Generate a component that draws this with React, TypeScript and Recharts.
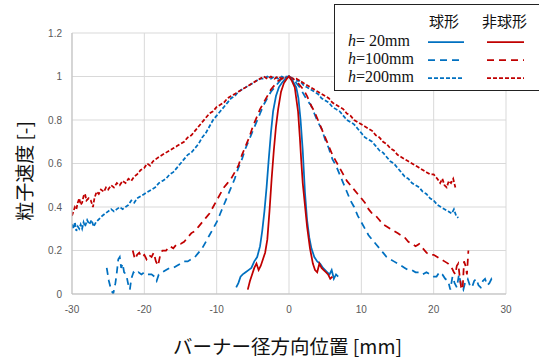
import { LineChart, Line, XAxis, YAxis, CartesianGrid } from 'recharts';

type Pt = [number, number];

const xTicks = [-30, -20, -10, 0, 10, 20, 30];
const yTicks = [0, 0.2, 0.4, 0.6, 0.8, 1, 1.2];

// h=20mm
const sph20: Pt[] = [
  [-7.3, 0.03], [-7.0, 0.05], [-6.7, 0.08], [-6.4, 0.09], [-6.0, 0.1], [-5.6, 0.11], [-5.2, 0.12],
  [-4.8, 0.15], [-4.4, 0.17], [-4.0, 0.22], [-3.7, 0.29], [-3.4, 0.38], [-3.1, 0.49], [-2.8, 0.62],
  [-2.5, 0.74], [-2.2, 0.84], [-1.8, 0.91], [-1.4, 0.95], [-1.0, 0.97], [-0.5, 0.99], [0, 1.0],
  [0.5, 0.98], [1.0, 0.95], [1.3, 0.9], [1.6, 0.8], [1.9, 0.66], [2.2, 0.47], [2.5, 0.34], [2.8, 0.26],
  [3.1, 0.21], [3.5, 0.17], [3.9, 0.15], [4.3, 0.14], [4.7, 0.12], [5.0, 0.11], [5.3, 0.1], [5.6, 0.09],
  [5.9, 0.11], [6.2, 0.07], [6.5, 0.09], [6.8, 0.08],
];
const nonSph20: Pt[] = [
  [-5.7, 0.02], [-5.4, 0.06], [-5.1, 0.09], [-4.8, 0.12], [-4.5, 0.14], [-4.2, 0.11], [-3.9, 0.13],
  [-3.6, 0.16], [-3.3, 0.19], [-3.0, 0.25], [-2.7, 0.38], [-2.4, 0.53], [-2.1, 0.66], [-1.8, 0.77],
  [-1.5, 0.85], [-1.1, 0.93], [-0.7, 0.97], [-0.3, 0.99], [0, 1.0],
  [0.4, 0.98], [0.8, 0.95], [1.0, 0.9], [1.25, 0.84], [1.5, 0.72], [1.7, 0.61], [1.9, 0.51], [2.2, 0.41],
  [2.5, 0.31], [2.9, 0.21], [3.3, 0.14], [3.6, 0.11], [3.9, 0.1], [4.2, 0.14], [4.5, 0.12], [4.8, 0.11],
  [5.1, 0.1], [5.4, 0.09], [5.7, 0.07], [6.0, 0.08],
];

// h=100mm
const sph100: Pt[] = [
  [-25.2, 0.12], [-24.9, 0.06], [-24.6, 0.02], [-24.3, 0.0], [-24.0, 0.05], [-23.8, 0.1], [-23.6, 0.16],
  [-23.4, 0.17], [-23.2, 0.12], [-23.0, 0.14], [-22.8, 0.1], [-22.5, 0.09], [-22.2, 0.04], [-22.0, 0.02],
  [-21.8, 0.07], [-21.5, 0.1], [-21.2, 0.09], [-20.8, 0.1], [-20.4, 0.09], [-20.0, 0.1], [-19.5, 0.09],
  [-19.0, 0.09], [-18.6, 0.08], [-18.3, 0.06], [-18.0, 0.09], [-17.5, 0.1], [-17.0, 0.11], [-16.5, 0.12],
  [-16.0, 0.12], [-15.5, 0.13], [-15.0, 0.14], [-14.5, 0.15], [-14.0, 0.15], [-13.5, 0.16], [-13.0, 0.17],
  [-12.5, 0.19], [-12.0, 0.21], [-11.5, 0.24], [-11.0, 0.27], [-10.5, 0.3], [-10.0, 0.33], [-9.5, 0.37],
  [-9.0, 0.41], [-8.5, 0.45], [-8.0, 0.49], [-7.5, 0.53], [-7.0, 0.58], [-6.5, 0.62], [-6.0, 0.67],
  [-5.5, 0.71], [-5.0, 0.75], [-4.5, 0.79], [-4.0, 0.83], [-3.5, 0.87], [-3.0, 0.9], [-2.5, 0.93],
  [-2.0, 0.95], [-1.5, 0.97], [-1.0, 0.99], [-0.5, 1.0], [0, 1.0],
  [0.5, 0.99], [1.0, 0.97], [1.5, 0.95], [2.0, 0.92], [2.5, 0.89], [3.0, 0.87], [3.5, 0.83], [4.0, 0.79],
  [4.5, 0.76], [5.0, 0.71], [5.5, 0.67], [6.0, 0.62], [6.5, 0.59], [7.0, 0.55], [7.5, 0.51], [8.0, 0.47],
  [8.5, 0.43], [9.0, 0.4], [9.5, 0.36], [10.0, 0.33], [10.5, 0.3], [11.0, 0.27], [11.5, 0.25], [12.0, 0.23],
  [12.5, 0.21], [13.0, 0.19], [13.5, 0.17], [14.0, 0.16], [14.5, 0.15], [15.0, 0.14], [15.5, 0.13],
  [16.0, 0.12], [16.5, 0.11], [17.0, 0.11], [17.5, 0.1], [18.0, 0.1], [18.5, 0.09], [19.0, 0.1],
  [19.5, 0.09], [20.0, 0.08], [20.4, 0.08], [20.8, 0.1], [21.2, 0.09], [21.6, 0.07], [22.0, 0.06],
  [22.3, 0.02], [22.6, 0.08], [22.9, 0.05], [23.2, 0.03], [23.5, 0.09], [23.8, 0.04], [24.1, 0.02],
  [24.4, 0.06], [24.7, 0.07], [25.0, 0.04], [25.3, 0.03], [25.6, 0.06], [25.9, 0.07], [26.2, 0.04],
  [26.5, 0.03], [26.8, 0.06], [27.1, 0.07], [27.4, 0.04], [27.7, 0.05], [28.0, 0.07], [28.3, 0.06],
];
const nonSph100: Pt[] = [
  [-21.6, 0.2], [-21.3, 0.16], [-21.0, 0.18], [-20.7, 0.19], [-20.4, 0.17], [-20.0, 0.18], [-19.7, 0.16],
  [-19.4, 0.18], [-19.0, 0.17], [-18.7, 0.19], [-18.4, 0.15], [-18.1, 0.13], [-17.8, 0.18], [-17.5, 0.2],
  [-17.0, 0.2], [-16.5, 0.22], [-16.0, 0.21], [-15.5, 0.23], [-15.0, 0.23], [-14.5, 0.24], [-14.0, 0.26],
  [-13.5, 0.28], [-13.0, 0.29], [-12.5, 0.31], [-12.0, 0.33], [-11.5, 0.35], [-11.0, 0.37], [-10.5, 0.4],
  [-10.0, 0.43], [-9.5, 0.46], [-9.0, 0.49], [-8.5, 0.51], [-8.0, 0.53], [-7.5, 0.56], [-7.0, 0.59],
  [-6.5, 0.64], [-6.0, 0.68], [-5.5, 0.72], [-5.0, 0.77], [-4.5, 0.81], [-4.0, 0.85], [-3.5, 0.88],
  [-3.0, 0.91], [-2.5, 0.94], [-2.0, 0.96], [-1.5, 0.98], [-1.0, 0.99], [0, 1.0],
  [0.5, 0.99], [1.0, 0.98], [1.5, 0.96], [2.0, 0.94], [2.5, 0.91], [3.0, 0.87], [3.5, 0.84], [4.0, 0.8],
  [4.5, 0.76], [5.0, 0.72], [5.5, 0.68], [6.0, 0.64], [6.5, 0.61], [7.0, 0.58], [7.5, 0.55], [8.0, 0.52],
  [8.5, 0.5], [9.0, 0.48], [9.5, 0.46], [10.0, 0.44], [10.5, 0.42], [11.0, 0.39], [11.5, 0.37], [12.0, 0.36],
  [12.5, 0.34], [13.0, 0.32], [13.5, 0.31], [14.0, 0.3], [14.5, 0.29], [15.0, 0.28], [15.5, 0.27],
  [16.0, 0.26], [16.5, 0.24], [17.0, 0.23], [17.5, 0.22], [18.0, 0.23], [18.5, 0.21], [19.0, 0.19],
  [19.5, 0.18], [20.0, 0.18], [20.5, 0.17], [21.0, 0.16], [21.5, 0.15], [22.0, 0.14], [22.5, 0.12],
  [22.8, 0.1], [23.0, 0.09], [23.2, 0.13], [23.4, 0.14], [23.6, 0.08], [23.8, 0.03], [24.0, 0.02],
  [24.2, 0.15], [24.4, 0.13], [24.6, 0.09], [24.8, 0.2],
];

// h=200mm
const sph200: Pt[] = [
  [-30.0, 0.32], [-29.8, 0.3], [-29.6, 0.33], [-29.4, 0.29], [-29.2, 0.31], [-29.0, 0.3], [-28.8, 0.32],
  [-28.6, 0.3], [-28.4, 0.33], [-28.2, 0.31], [-27.9, 0.34], [-27.6, 0.32], [-27.3, 0.34], [-27.0, 0.31],
  [-26.7, 0.33], [-26.4, 0.34], [-26.1, 0.35], [-25.8, 0.36], [-25.4, 0.37], [-25.0, 0.38], [-24.6, 0.39],
  [-24.2, 0.38], [-23.8, 0.39], [-23.4, 0.4], [-23.0, 0.39], [-22.6, 0.4], [-22.2, 0.41], [-21.8, 0.43],
  [-21.4, 0.42], [-21.0, 0.44], [-20.5, 0.45], [-20.0, 0.46], [-19.5, 0.47], [-19.0, 0.48], [-18.5, 0.49],
  [-18.0, 0.51], [-17.5, 0.52], [-17.0, 0.53], [-16.5, 0.55], [-16.0, 0.56], [-15.5, 0.58], [-15.0, 0.6],
  [-14.5, 0.62], [-14.0, 0.64], [-13.5, 0.65], [-13.0, 0.67], [-12.5, 0.69], [-12.0, 0.72], [-11.5, 0.74],
  [-11.0, 0.77], [-10.5, 0.8], [-10.0, 0.82], [-9.5, 0.84], [-9.0, 0.86], [-8.5, 0.88], [-8.0, 0.9],
  [-7.5, 0.91], [-7.0, 0.93], [-6.5, 0.94], [-6.0, 0.95], [-5.5, 0.96], [-5.0, 0.97], [-4.5, 0.98],
  [-4.0, 0.99], [-3.5, 0.99], [-3.0, 1.0], [-2.5, 0.99], [-2.0, 1.0], [-1.5, 0.99], [-1.0, 1.0],
  [-0.5, 0.99], [0, 1.0],
  [0.5, 0.99], [1.0, 0.98], [1.5, 0.98], [2.0, 0.96], [2.5, 0.95], [3.0, 0.94], [3.5, 0.93], [4.0, 0.92],
  [4.5, 0.9], [5.0, 0.89], [5.5, 0.88], [6.0, 0.86], [6.5, 0.85], [7.0, 0.84], [7.5, 0.82], [8.0, 0.8],
  [8.5, 0.79], [9.0, 0.78], [9.5, 0.76], [10.0, 0.74], [10.5, 0.72], [11.0, 0.71], [11.5, 0.7], [12.0, 0.68],
  [12.5, 0.66], [13.0, 0.65], [13.5, 0.63], [14.0, 0.61], [14.5, 0.6], [15.0, 0.58], [15.5, 0.56],
  [16.0, 0.54], [16.5, 0.53], [17.0, 0.51], [17.5, 0.5], [18.0, 0.49], [18.5, 0.47], [19.0, 0.46],
  [19.5, 0.44], [20.0, 0.43], [20.5, 0.41], [21.0, 0.4], [21.5, 0.39], [22.0, 0.38], [22.5, 0.37],
  [22.8, 0.39], [23.1, 0.36], [23.4, 0.35],
];
const nonSph200: Pt[] = [
  [-30.0, 0.36], [-29.8, 0.38], [-29.6, 0.4], [-29.4, 0.39], [-29.2, 0.42], [-29.0, 0.44], [-28.8, 0.41],
  [-28.6, 0.42], [-28.4, 0.45], [-28.2, 0.46], [-28.0, 0.43], [-27.7, 0.44], [-27.4, 0.43], [-27.1, 0.4],
  [-26.9, 0.44], [-26.6, 0.47], [-26.3, 0.46], [-26.0, 0.48], [-25.6, 0.47], [-25.3, 0.49], [-25.0, 0.48],
  [-24.6, 0.5], [-24.2, 0.49], [-23.8, 0.51], [-23.4, 0.5], [-23.0, 0.52], [-22.6, 0.51], [-22.2, 0.53],
  [-21.8, 0.52], [-21.4, 0.54], [-21.0, 0.55], [-20.5, 0.57], [-20.0, 0.58], [-19.6, 0.6], [-19.2, 0.59],
  [-18.8, 0.61], [-18.4, 0.62], [-18.0, 0.63], [-17.5, 0.64], [-17.0, 0.65], [-16.5, 0.66], [-16.0, 0.67],
  [-15.5, 0.68], [-15.0, 0.69], [-14.5, 0.7], [-14.0, 0.72], [-13.5, 0.73], [-13.0, 0.75], [-12.5, 0.77],
  [-12.0, 0.79], [-11.5, 0.81], [-11.0, 0.83], [-10.5, 0.84], [-10.0, 0.86], [-9.5, 0.87], [-9.0, 0.88],
  [-8.5, 0.9], [-8.0, 0.91], [-7.5, 0.92], [-7.0, 0.93], [-6.5, 0.94], [-6.0, 0.95], [-5.5, 0.96],
  [-5.0, 0.97], [-4.5, 0.98], [-4.0, 0.99], [-3.5, 1.0], [-3.0, 0.99], [-2.5, 1.0], [-2.0, 0.99],
  [-1.5, 1.0], [-1.0, 0.99], [0, 1.0],
  [0.5, 0.99], [1.0, 0.99], [1.5, 0.98], [2.0, 0.97], [2.5, 0.96], [3.0, 0.95], [3.5, 0.94], [4.0, 0.93],
  [4.5, 0.92], [5.0, 0.91], [5.5, 0.9], [6.0, 0.88], [6.5, 0.87], [7.0, 0.86], [7.5, 0.85], [8.0, 0.83],
  [8.5, 0.82], [9.0, 0.8], [9.5, 0.79], [10.0, 0.78], [10.5, 0.77], [11.0, 0.76], [11.5, 0.75], [12.0, 0.73],
  [12.5, 0.72], [13.0, 0.7], [13.5, 0.69], [14.0, 0.67], [14.5, 0.66], [15.0, 0.64], [15.5, 0.63],
  [16.0, 0.62], [16.5, 0.61], [17.0, 0.6], [17.5, 0.59], [18.0, 0.58], [18.5, 0.57], [19.0, 0.56],
  [19.5, 0.55], [20.0, 0.55], [20.5, 0.53], [20.9, 0.51], [21.2, 0.53], [21.5, 0.5], [21.8, 0.49],
  [22.1, 0.52], [22.4, 0.51], [22.7, 0.53], [23.0, 0.49],
];

const BLUE = '#0070c0';
const RED = '#c00000';
const DASH_100 = '7 5';
const DASH_200 = '4 2';

const toRows = (pts: Pt[]) => pts.map(([x, y]) => ({ x, y }));

const series = [
  { name: 'sph200', data: sph200, color: BLUE, dash: DASH_200 },
  { name: 'nonSph200', data: nonSph200, color: RED, dash: DASH_200 },
  { name: 'sph100', data: sph100, color: BLUE, dash: DASH_100 },
  { name: 'nonSph100', data: nonSph100, color: RED, dash: DASH_100 },
  { name: 'sph20', data: sph20, color: BLUE, dash: undefined },
  { name: 'nonSph20', data: nonSph20, color: RED, dash: undefined },
];

const legendRows = [
  { label: ' 20mm', dash: undefined },
  { label: '100mm', dash: DASH_100 },
  { label: '200mm', dash: DASH_200 },
];

const tickStyle = { fontSize: 10, fill: '#595959', fontFamily: '"Liberation Sans", Arial, sans-serif' };
const jpFont = '"Noto Sans CJK JP", "Noto Sans", sans-serif';
const serifFont = "'Liberation Serif', 'DejaVu Serif', serif";

function LegendBox() {
  return (
    <div
      style={{
        position: 'absolute', left: 334, top: 4, width: 210, height: 87,
        border: '1.5px solid #222', background: '#fff', boxSizing: 'border-box',
      }}
    >
      <div style={{ position: 'absolute', left: 94, top: 5, fontFamily: jpFont, fontSize: 15, color: '#111' }}>球形</div>
      <div style={{ position: 'absolute', left: 147, top: 5, fontFamily: jpFont, fontSize: 15, color: '#111' }}>非球形</div>
      {legendRows.map((r, i) => (
        <div key={r.label} style={{ position: 'absolute', left: 13, top: 27 + i * 18, height: 18, width: 190 }}>
          <span
            style={{
              position: 'absolute', left: 0, top: 0, fontFamily: serifFont,
              fontSize: 16, lineHeight: '18px', color: '#111', whiteSpace: 'pre',
            }}
          >
            <i>h</i>={r.label}
          </span>
          <svg style={{ position: 'absolute', left: 0, top: 0 }} width={190} height={18}>
            <line x1={80} x2={116} y1={10} y2={10} stroke={BLUE} strokeWidth={1.75} strokeDasharray={r.dash} />
            <line x1={139} x2={176} y1={10} y2={10} stroke={RED} strokeWidth={1.75} strokeDasharray={r.dash} />
          </svg>
        </div>
      ))}
    </div>
  );
}

export default function App() {
  return (
    <div style={{ position: 'absolute', left: 0, top: 0, width: 539, height: 362, background: '#fff', overflow: 'hidden' }}>
      <LineChart width={539} height={362} margin={{ top: 33, right: 33, bottom: 38, left: 12 }}>
        <CartesianGrid stroke="#d9d9d9" />
        <XAxis
          type="number"
          dataKey="x"
          domain={[-30, 30]}
          ticks={xTicks}
          allowDataOverflow
          tick={tickStyle}
          tickLine={false}
          axisLine={{ stroke: '#bfbfbf' }}
          tickMargin={6}
          height={30}
        />
        <YAxis
          type="number"
          dataKey="y"
          domain={[0, 1.2]}
          ticks={yTicks}
          allowDataOverflow
          tick={tickStyle}
          tickLine={false}
          axisLine={{ stroke: '#bfbfbf' }}
          tickFormatter={(v: number) => (v === 0 || v === 1 ? String(v) : v.toFixed(1))}
          tickMargin={4}
          width={60}
        />
        {series.map((s) => (
          <Line
            key={s.name}
            data={toRows(s.data)}
            dataKey="y"
            type="linear"
            stroke={s.color}
            strokeWidth={1.75}
            strokeDasharray={s.dash}
            dot={false}
            activeDot={false}
            isAnimationActive={false}
          />
        ))}
      </LineChart>
      <LegendBox />
      <div style={{ position: 'absolute', left: 0, top: 171, width: 0, height: 0 }}>
        <div
          style={{
            position: 'absolute', left: 23, top: 0, transform: 'translate(-50%, -50%) rotate(-90deg)',
            fontFamily: jpFont, fontSize: 19, color: '#111', whiteSpace: 'nowrap',
          }}
        >
          粒子速度 [-]
        </div>
      </div>
      <div
        style={{
          position: 'absolute', left: 0, top: 346, width: 575, textAlign: 'center', transform: 'translateY(-50%)',
          fontFamily: jpFont, fontSize: 19.5, color: '#111', whiteSpace: 'nowrap', lineHeight: 1,
        }}
      >
        バーナー径方向位置 [mm]
      </div>
    </div>
  );
}
